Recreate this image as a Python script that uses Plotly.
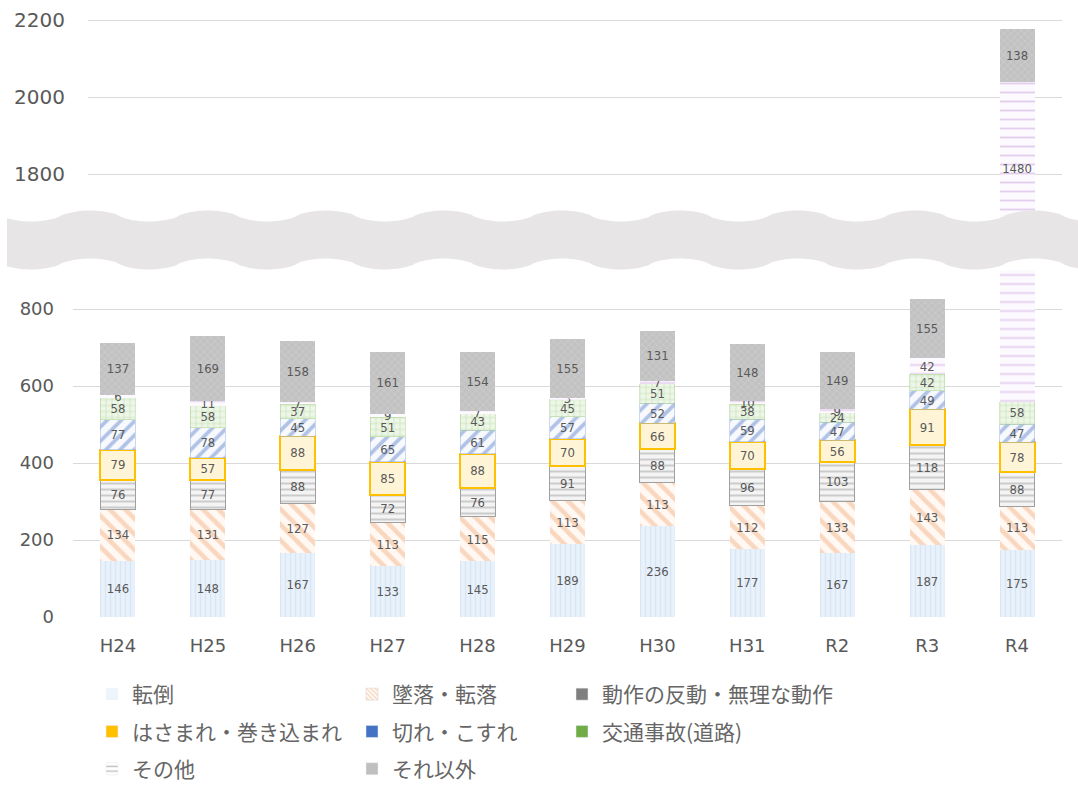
import numpy as np
import plotly.graph_objects as go

# ---------------- data ----------------
categories = ["H24", "H25", "H26", "H27", "H28", "H29", "H30", "H31", "R2", "R3", "R4"]
tentou     = [146, 148, 167, 133, 145, 189, 236, 177, 167, 187, 175]   # 転倒
tsuiraku   = [134, 131, 127, 113, 115, 113, 113, 112, 133, 143, 113]   # 墜落・転落
dousa      = [76, 77, 88, 72, 76, 91, 88, 96, 103, 118, 88]            # 動作の反動・無理な動作
hasamare   = [79, 57, 88, 85, 88, 70, 66, 70, 56, 91, 78]              # はさまれ・巻き込まれ
kire       = [77, 78, 45, 65, 61, 57, 52, 59, 47, 49, 47]              # 切れ・こすれ
koutsu     = [58, 58, 37, 51, 43, 45, 51, 38, 24, 42, 58]              # 交通事故(道路)
sonota     = [6, 11, 7, 9, 7, 3, 7, 10, 9, 42, 1480]                   # その他
soreigai   = [137, 169, 158, 161, 154, 155, 131, 148, 149, 155, 138]   # それ以外

names = ["転倒", "墜落・転落", "動作の反動・無理な動作", "はさまれ・巻き込まれ",
         "切れ・こすれ", "交通事故(道路)", "その他", "それ以外"]
values = [tentou, tsuiraku, dousa, hasamare, kire, koutsu, sonota, soreigai]

# ---------------- styles ----------------
W, H = 1078, 789
def fx(x): return x / W
def fy(y): return 1 - y / H

bar_markers = [
    dict(color="#e3eef9", pattern=dict(shape="|", fgcolor="#c8dcf0", bgcolor="#e9f1fa", size=5, solidity=0.3), line=dict(width=0)),
    dict(color="#ffffff", pattern=dict(shape="\\", fgcolor="#f3b58c", bgcolor="#fff8f3", size=11, solidity=0.42), line=dict(width=0)),
    dict(color="#f2f2f2", pattern=dict(shape="-", fgcolor="#9a9a9a", bgcolor="#f4f4f4", size=6, solidity=0.3), line=dict(color="#a0a0a0", width=1)),
    dict(color="#fff5d6", line=dict(color="#ffc000", width=2)),
    dict(color="#ffffff", pattern=dict(shape="/", fgcolor="#6a8bd0", bgcolor="#f7f9fd", size=10, solidity=0.38), line=dict(color="#9ab1e0", width=0.5)),
    dict(color="#e6f2dc", pattern=dict(shape="+", fgcolor="#a9d18e", bgcolor="#eef6e8", size=6, solidity=0.25), line=dict(color="#a9d18e", width=0.5)),
    dict(color="#ffffff", pattern=dict(shape="-", fgcolor="#c9a0dc", bgcolor="#fdfaff", size=9, solidity=0.2), line=dict(width=0)),
    dict(color="#c3c3c3", pattern=dict(shape="x", fgcolor="#dcdcdc", bgcolor="#c2c2c2", size=5, solidity=0.25), line=dict(width=0)),
]
legend_markers = [
    dict(color="#eef4fb", line=dict(width=0)),
    dict(color="#ffffff", pattern=dict(shape="\\", fgcolor="#f4b183", bgcolor="#ffffff", size=4, solidity=0.5), line=dict(color="#d0d0d0", width=0.5)),
    dict(color="#7f7f7f"),
    dict(color="#ffc000"),
    dict(color="#4472c4"),
    dict(color="#70ad47"),
    dict(color="#ffffff", pattern=dict(shape="-", fgcolor="#7f7f7f", bgcolor="#ffffff", size=6, solidity=0.3)),
    dict(color="#bfbfbf"),
]
legend_of = ["legend", "legend2", "legend3", "legend", "legend2", "legend3", "legend", "legend2"]

label_font = dict(family="Liberation Sans Narrow, DejaVu Sans Condensed, sans-serif", size=13, color="#595959")

# ---------------- axes geometry ----------------
x_left, x_right = 73, 1062
step = (x_right - x_left) / len(categories)
x2_left = 88
px_per_unit = (617 - 309) / 800.0
low_top_px = 270.5
up_bot_px, up_top_px = 258, 16
up_lo = 1800 - (up_bot_px - 174) / px_per_unit
up_hi = 2200 + (20 - up_top_px) / px_per_unit
low_hi = (617 - low_top_px) / px_per_unit

fig = go.Figure()
BW = 0.39
cum = np.cumsum(np.array(values), axis=0)
for i, (name, vals) in enumerate(zip(names, values)):
    tops = cum[i]
    bots = tops - np.array(vals)
    # lower panel: label only segments fully inside the lower range
    low_text = [str(v) if t <= low_hi else "" for v, t in zip(vals, tops)]
    # upper panel: label only segments fully inside the upper range
    up_text = [str(v) if b >= up_lo else "" for v, b in zip(vals, bots)]
    fig.add_trace(go.Bar(x=categories, y=vals, name=name, marker=bar_markers[i], width=BW,
                         text=low_text, textposition=["inside" if t else "none" for t in low_text],
                         insidetextanchor="middle", textangle=0,
                         textfont=label_font, showlegend=False, xaxis="x", yaxis="y", hoverinfo="name+y"))
    fig.add_trace(go.Bar(x=categories, y=vals, name=name, marker=bar_markers[i], width=BW,
                         text=up_text, textposition=["inside" if t else "none" for t in up_text],
                         insidetextanchor="middle", textangle=0,
                         textfont=label_font, showlegend=False, xaxis="x2", yaxis="y2", hoverinfo="name+y"))

# label of the tall R4 "その他" segment (crosses the break), centred on its visible part in the upper panel
k = names.index("その他")
j = categories.index("R4")
seg_lo = cum[k - 1][j]
seg_hi = cum[k][j]
lab_y = (max(seg_lo, up_lo) + min(seg_hi, up_hi)) / 2
fig.add_trace(go.Scatter(x=[categories[j]], y=[lab_y], mode="text", text=[str(sonota[j])],
                         textfont=label_font, showlegend=False, xaxis="x2", yaxis="y2", hoverinfo="skip"))

# legend entries
for i, name in enumerate(names):
    fig.add_trace(go.Bar(x=[None], y=[None], name=name, marker=legend_markers[i], legend=legend_of[i],
                         legendgroup=name, showlegend=True, xaxis="x", yaxis="y"))

tick_font = dict(family="DejaVu Sans", size=18, color="#595959")
fig.update_layout(
    width=W, height=H, margin=dict(l=0, r=0, t=0, b=0, autoexpand=False),
    paper_bgcolor="white", plot_bgcolor="rgba(0,0,0,0)",
    barmode="stack",
    uniformtext=dict(minsize=12, mode="show"),
    xaxis=dict(domain=[fx(x_left), fx(x_right)], range=[-0.5, len(categories) - 0.5],
               showgrid=False, showline=False, zeroline=False, ticks="", automargin=False,
               tickfont=tick_font, ticklabelstandoff=16, anchor="y", fixedrange=True),
    yaxis=dict(domain=[fy(617), fy(low_top_px)], range=[0, low_hi], dtick=200, tick0=0,
               showgrid=True, gridcolor="#d9d9d9", gridwidth=1, zeroline=False, showline=False,
               automargin=False, tickfont=tick_font, ticklabelstandoff=18, anchor="x", fixedrange=True),
    xaxis2=dict(domain=[fx(x2_left), fx(x_right)],
                range=[-0.5 + (x2_left - x_left) / step, len(categories) - 0.5],
                showgrid=False, showline=False, zeroline=False, showticklabels=False, ticks="",
                automargin=False, anchor="y2", fixedrange=True),
    yaxis2=dict(domain=[fy(up_bot_px), fy(up_top_px)], range=[up_lo, up_hi],
                tickvals=[1800, 2000, 2200],
                showgrid=True, gridcolor="#d9d9d9", gridwidth=1, zeroline=False, showline=False,
                tickfont=dict(family="DejaVu Sans", size=20, color="#595959"), automargin=False,
                ticklabelstandoff=22, anchor="x2", fixedrange=True),
)

leg_font = dict(family="Noto Sans CJK JP", size=21, color="#666666")
common_leg = dict(orientation="v", yanchor="top", xanchor="left", font=leg_font,
                  bgcolor="rgba(0,0,0,0)", tracegroupgap=7, itemclick=False, itemdoubleclick=False)
fig.update_layout(
    legend=dict(x=fx(92), y=fy(674), **common_leg),
    legend2=dict(x=fx(352), y=fy(674), **common_leg),
    legend3=dict(x=fx(562), y=fy(674), **common_leg),
)

# ---------------- axis-break band ----------------
xs = np.linspace(7, W, 400)
ph = np.sin(2 * np.pi * (xs - 60.5) / 118.0)
wave = np.sign(ph) * np.abs(ph) ** 0.7
top = 216 - 5.5 * wave
bot = 264 - 5.5 * wave
pts = [(fx(x), fy(y)) for x, y in zip(xs, top)] + [(fx(x), fy(y)) for x, y in zip(xs[::-1], bot[::-1])]
path = "M " + " L ".join(f"{a:.5f},{b:.5f}" for a, b in pts) + " Z"
fig.add_shape(type="path", path=path, xref="paper", yref="paper",
              fillcolor="#e7e5e6", line=dict(width=0), layer="above")

fig.write_html("out.html", config={"displayModeBar": False},
               post_script="document.body.style.margin='0px';")
